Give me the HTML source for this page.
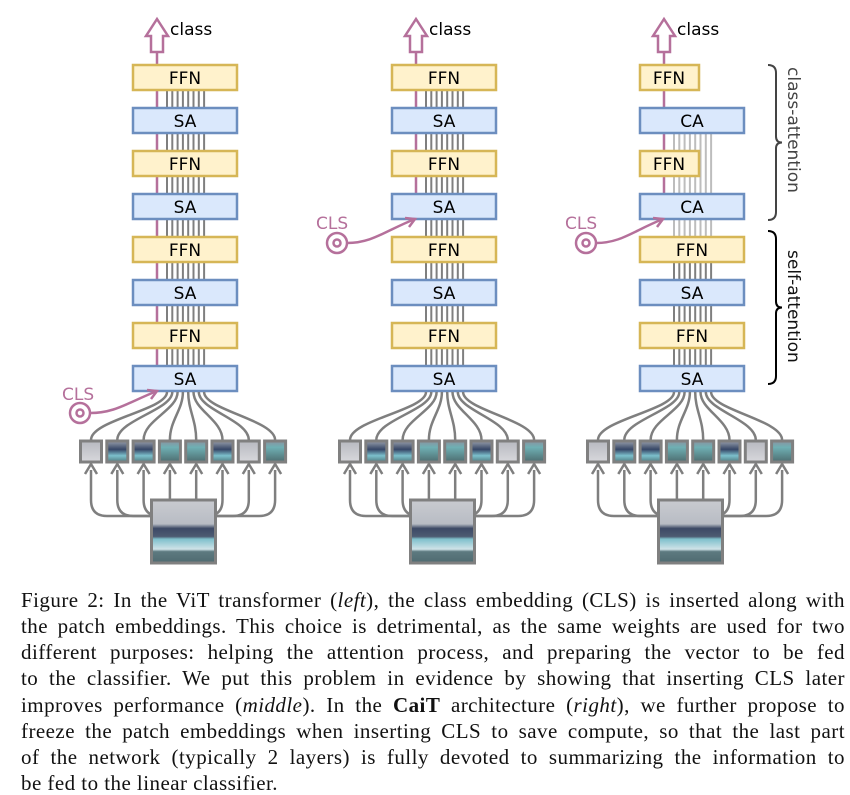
<!DOCTYPE html>
<html><head><meta charset="utf-8">
<style>
html,body{margin:0;padding:0;background:#fff;}
body{width:850px;height:786px;position:relative;overflow:hidden;}
svg{position:absolute;left:0;top:0;}
.cap{position:absolute;left:21px;width:824px;font-family:"Liberation Serif",serif;font-size:21px;letter-spacing:0.45px;color:#111;text-align:justify;text-align-last:justify;white-space:nowrap;line-height:20px;}
.cap.last{text-align-last:left;}
.box{font-family:"DejaVu Sans",sans-serif;font-size:17px;fill:#000;text-anchor:middle;}
</style></head><body>
<svg id="s" width="850" height="786" xmlns="http://www.w3.org/2000/svg">
<defs>
<linearGradient id="img1" x1="0" y1="0" x2="0" y2="1">
<stop offset="0" stop-color="#c9cbd0"/><stop offset="0.38" stop-color="#b8bcc4"/>
<stop offset="0.45" stop-color="#3d4a66"/><stop offset="0.58" stop-color="#4d5b72"/>
<stop offset="0.62" stop-color="#7fc0cc"/><stop offset="0.78" stop-color="#cfe3e8"/>
<stop offset="0.82" stop-color="#5d7a80"/><stop offset="1" stop-color="#4f6a70"/></linearGradient>
<linearGradient id="pA" x1="0" y1="0" x2="0" y2="1"><stop offset="0" stop-color="#b7b9c0"/><stop offset="1" stop-color="#d8d8dc"/></linearGradient>
<linearGradient id="pB" x1="0" y1="0" x2="0" y2="1"><stop offset="0" stop-color="#9aa0ad"/><stop offset="0.4" stop-color="#364666"/><stop offset="0.7" stop-color="#7cc0cc"/><stop offset="1" stop-color="#4e7a80"/></linearGradient>
<linearGradient id="pC" x1="0" y1="0" x2="0" y2="1"><stop offset="0" stop-color="#8a93a0"/><stop offset="0.3" stop-color="#6fb0b4"/><stop offset="1" stop-color="#4d6d70"/></linearGradient>
</defs>
<g id="g"></g>
<g class="box">
<text x="185" y="84">FFN</text><text x="185" y="127">SA</text><text x="185" y="170">FFN</text><text x="185" y="213">SA</text>
<text x="185" y="256">FFN</text><text x="185" y="299">SA</text><text x="185" y="342">FFN</text><text x="185" y="385">SA</text>
<text x="444" y="84">FFN</text><text x="444" y="127">SA</text><text x="444" y="170">FFN</text><text x="444" y="213">SA</text>
<text x="444" y="256">FFN</text><text x="444" y="299">SA</text><text x="444" y="342">FFN</text><text x="444" y="385">SA</text>
<text x="669" y="84">FFN</text><text x="692" y="127">CA</text><text x="669" y="170">FFN</text><text x="692" y="213">CA</text>
<text x="692" y="256">FFN</text><text x="692" y="299">SA</text><text x="692" y="342">FFN</text><text x="692" y="385">SA</text>
</g>
<g font-family="DejaVu Sans,sans-serif" font-size="17" fill="#000">
<text x="170" y="35">class</text><text x="429" y="35">class</text><text x="677" y="35">class</text>
</g>
<g font-family="DejaVu Sans,sans-serif" font-size="17" fill="#b5709b">
<text x="62" y="400">CLS</text><text x="316" y="229">CLS</text><text x="565" y="229">CLS</text>
</g>
<g font-family="DejaVu Sans,sans-serif" font-size="17">
<text transform="translate(788,67) rotate(90)" fill="#444">class-attention</text>
<text transform="translate(788,250) rotate(90)" fill="#111">self-attention</text>
</g>
</svg>
<div class="cap" style="top:590px">Figure 2: In the ViT transformer (<i>left</i>), the class embedding (CLS) is inserted along with</div>
<div class="cap" style="top:616px">the patch embeddings. This choice is detrimental, as the same weights are used for two</div>
<div class="cap" style="top:642px">different purposes: helping the attention process, and preparing the vector to be fed</div>
<div class="cap" style="top:668px">to the classifier. We put this problem in evidence by showing that inserting CLS later</div>
<div class="cap" style="top:695px">improves performance (<i>middle</i>). In the <b>CaiT</b> architecture (<i>right</i>), we further propose to</div>
<div class="cap" style="top:721px">freeze the patch embeddings when inserting CLS to save compute, so that the last part</div>
<div class="cap" style="top:747px">of the network (typically 2 layers) is fully devoted to summarizing the information to</div>
<div class="cap last" style="top:773px">be fed to the linear classifier.</div>
<script>
(function(){
var g=document.getElementById('g'),h='';
var M='#b5709b',G='#7f7f7f',L='#bdbdbd';
var tops=[65,108,151,194,237,280,323,366];
function col(cx,mode){
 var mx=cx-28;
 for(var i=0;i<8;i++){var x=cx-18+i*5.3;
  if(mode==2){h+='<line x1="'+x+'" y1="133" x2="'+x+'" y2="237" stroke="'+L+'" stroke-width="2"/>';
   h+='<line x1="'+x+'" y1="237" x2="'+x+'" y2="366" stroke="'+G+'" stroke-width="2"/>';}
  else h+='<line x1="'+x+'" y1="90" x2="'+x+'" y2="366" stroke="'+G+'" stroke-width="2"/>';
 }
 var mbot = mode==0?366:219;
 h+='<line x1="'+mx+'" y1="52" x2="'+mx+'" y2="'+mbot+'" stroke="'+M+'" stroke-width="2.5"/>';
 h+='<path d="M'+(mx-6)+' 52 V36 H'+(mx-11)+' L'+mx+' 19 L'+(mx+11)+' 36 H'+(mx+6)+' V52 Z" fill="#fff" stroke="'+M+'" stroke-width="2.5"/>';
 for(var r=0;r<8;r++){var y=tops[r],isF=(r%2==0);
  var x=cx-52,w=104;
  if(mode==2&&(r==0||r==2)){w=59;}
  var fill=isF?'#fff2cc':'#dae8fc',st=isF?'#d6b656':'#6c8ebf';
  h+='<rect x="'+x+'" y="'+y+'" width="'+w+'" height="25" fill="'+fill+'" stroke="'+st+'" stroke-width="2.5"/>';
 }
 var pc=cx-1.5, p0=pc-104.5;
 for(var i=0;i<8;i++){var sx=cx-18+i*5.3, px=p0+12+i*26.3;
  h+='<path d="M'+sx+' 392 C'+sx+' 410 '+px+' 420 '+px+' 440" fill="none" stroke="'+G+'" stroke-width="2.5"/>';
 }
 var fills=['pA','pB','pB','pC','pC','pB','pA','pC'];
 for(var i=0;i<8;i++){var px=p0+i*26.3;
  h+='<rect x="'+(px+1.5)+'" y="441" width="21" height="21" fill="url(#'+fills[i]+')" stroke="#808080" stroke-width="3"/>';}
 var ix=pc-32;
 for(var i=0;i<8;i++){var px=p0+12+i*26.3;
  if(px>ix&&px<ix+64){h+='<line x1="'+px+'" y1="499" x2="'+px+'" y2="470" stroke="'+G+'" stroke-width="2.5"/>';}
  else{var ex=px<ix?ix:ix+64;var d=px<ex?16:-16;
   h+='<path d="M'+ex+' 516 H'+(px+d)+' Q'+px+' 516 '+px+' 500 V470" fill="none" stroke="'+G+'" stroke-width="2.5"/>';}
  h+='<path d="M'+(px-6)+' 474 L'+px+' 464 L'+(px+6)+' 474" fill="none" stroke="'+G+'" stroke-width="2.5"/>';
 }
 h+='<rect x="'+ix+'" y="500" width="64" height="63" fill="url(#img1)" stroke="#808080" stroke-width="3"/>';
}
col(185,0);col(444,1);col(692,2);
function cls(cx,cy,tx,ty){
 h+='<circle cx="'+cx+'" cy="'+cy+'" r="10" fill="#fff" stroke="'+M+'" stroke-width="2.5"/>';
 h+='<circle cx="'+cx+'" cy="'+cy+'" r="3.5" fill="none" stroke="'+M+'" stroke-width="2.5"/>';
 h+='<path d="M'+(cx+10)+' '+cy+' C'+(cx+35)+' '+cy+' '+(tx-30)+' '+(ty+12)+' '+tx+' '+ty+'" fill="none" stroke="'+M+'" stroke-width="2.5"/>';
 h+='<path d="M'+(tx-10)+' '+(ty-1)+' L'+tx+' '+ty+' L'+(tx-6)+' '+(ty+8)+'" fill="none" stroke="'+M+'" stroke-width="2.5"/>';
}
cls(80,413,157,391);cls(337,243,415,219);cls(586,243,663,219);
function brace(x,y1,y2,c){var m=(y1+y2)/2;
 h+='<path d="M'+x+' '+y1+' Q'+(x+8)+' '+y1+' '+(x+8)+' '+(y1+8)+' V'+(m-6)+' Q'+(x+8)+' '+m+' '+(x+14)+' '+m+' Q'+(x+8)+' '+m+' '+(x+8)+' '+(m+6)+' V'+(y2-8)+' Q'+(x+8)+' '+y2+' '+x+' '+y2+'" fill="none" stroke="'+c+'" stroke-width="2"/>';}
brace(768,65,220,'#444');brace(768,231,384,'#000');
g.innerHTML=h;
})();
</script>
</body></html>
